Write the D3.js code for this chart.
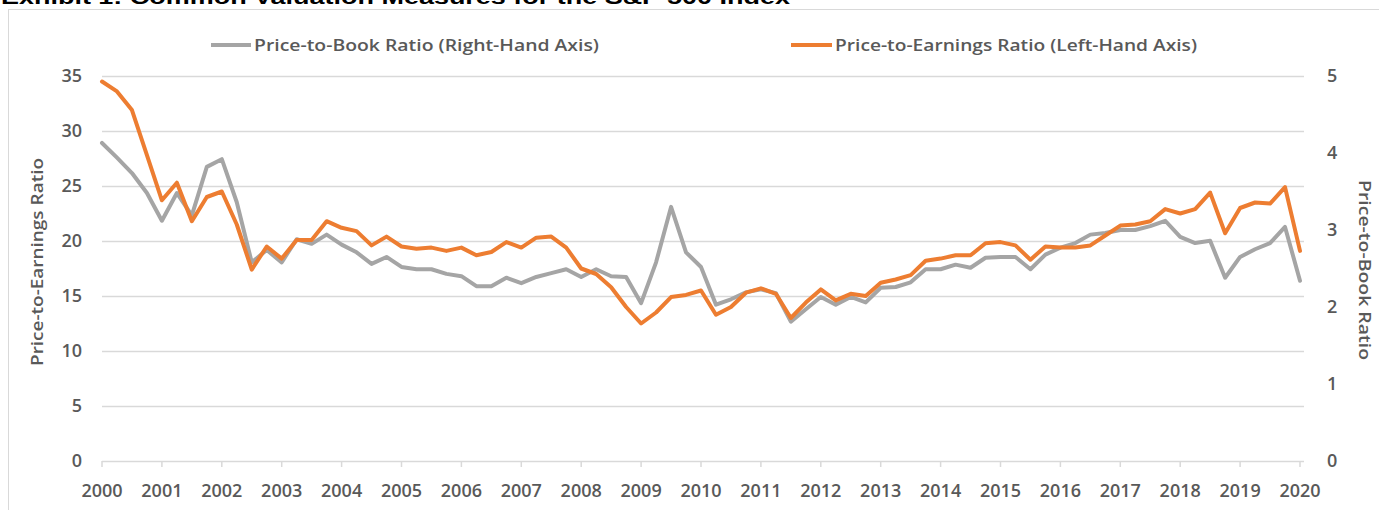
<!DOCTYPE html>
<html>
<head>
<meta charset="utf-8">
<script src="https://cdn.jsdelivr.net/npm/d3@7"></script>
<style>
  html, body { margin: 0; padding: 0; background: #fff; }
  svg { display: block; }
  text { font-family: "Open Sans", "DejaVu Sans", sans-serif; fill: #595959; }
</style>
</head>
<body>
<svg id="chart" width="1379" height="510"></svg>
<script>
// Quarterly observations, 2000 Q1 .. 2020 Q1
const startYear = 2000;
const peRatio = [
  34.5, 33.6, 31.9, 27.8, 23.7, 25.3, 21.8, 24.0, 24.5, 21.5,
  17.4, 19.5, 18.4, 20.1, 20.1, 21.8, 21.2, 20.9, 19.6, 20.4,
  19.5, 19.3, 19.4, 19.1, 19.4, 18.7, 19.0, 19.9, 19.4, 20.3,
  20.4, 19.4, 17.5, 17.0, 15.8, 14.0, 12.5, 13.5, 14.9, 15.1,
  15.5, 13.3, 14.0, 15.3, 15.7, 15.2, 13.0, 14.4, 15.6, 14.6,
  15.2, 15.0, 16.2, 16.5, 16.9, 18.2, 18.4, 18.7, 18.7, 19.8,
  19.9, 19.6, 18.3, 19.5, 19.4, 19.4, 19.6, 20.5, 21.4, 21.5,
  21.8, 22.9, 22.5, 22.9, 24.4, 20.7, 23.0, 23.5, 23.4, 24.9,
  19.1
];
const pbRatio = [
  4.13, 3.94, 3.74, 3.48, 3.12, 3.48, 3.19, 3.82, 3.92, 3.36,
  2.58, 2.74, 2.58, 2.88, 2.82, 2.94, 2.81, 2.71, 2.56, 2.65,
  2.52, 2.49, 2.49, 2.43, 2.40, 2.27, 2.27, 2.38, 2.31, 2.39,
  2.44, 2.49, 2.39, 2.49, 2.40, 2.39, 2.05, 2.58, 3.30, 2.71,
  2.52, 2.03, 2.10, 2.19, 2.23, 2.18, 1.81, 1.97, 2.13, 2.03,
  2.13, 2.06, 2.25, 2.26, 2.32, 2.49, 2.49, 2.55, 2.51, 2.64,
  2.65, 2.65, 2.49, 2.68, 2.77, 2.83, 2.94, 2.96, 3.00, 3.00,
  3.05, 3.12, 2.91, 2.83, 2.86, 2.38, 2.65, 2.75, 2.83, 3.04,
  2.34
];
const yearTicks = d3.range(2000, 2021);
const leftTicks = [0, 5, 10, 15, 20, 25, 30, 35];
const rightTicks = [0, 1, 2, 3, 4, 5];
const seriesNames = ["Price-to-Book Ratio (Right-Hand Axis)", "Price-to-Earnings Ratio (Left-Hand Axis)"];
const titleText = "Exhibit 1: Common Valuation Measures for the S&P 500 Index";
const leftTitle = "Price-to-Earnings Ratio";
const rightTitle = "Price-to-Book Ratio";

const dates = peRatio.map((d, i) => startYear + i * 0.25);

const svg = d3.select("#chart");
const pLeft = 102, pRight = 1300, pTop = 76, pBottom = 461, gridRight = 1304;

const x = d3.scaleLinear().domain([2000, 2020]).range([pLeft, pRight]);
const yL = d3.scaleLinear().domain([0, 35]).range([pBottom, pTop]);
const yR = d3.scaleLinear().domain([0, 5]).range([pBottom, pTop]);

// chart frame (right and bottom edges fall outside the picture)
svg.append("rect").attr("x", 8.5).attr("y", 9.5).attr("width", 1400).attr("height", 520)
  .attr("fill", "none").attr("stroke", "#d9d9d9").attr("stroke-width", 1);

// title (clipped at top, as in the source picture)
svg.append("text").attr("x", 1).attr("y", 4)
  .style("font-family", "'Liberation Sans', Arial, sans-serif")
  .style("font-weight", "bold").style("font-size", "21px").style("fill", "#000")
  .attr("textLength", 789).attr("lengthAdjust", "spacingAndGlyphs")
  .text(titleText);

// gridlines
svg.append("g").selectAll("line").data(leftTicks).join("line")
  .attr("x1", pLeft).attr("x2", gridRight)
  .attr("y1", d => Math.round(yL(d)) + 0.5).attr("y2", d => Math.round(yL(d)) + 0.5)
  .attr("stroke", "#d9d9d9").attr("stroke-width", 1.5);

// x tick marks
svg.append("g").selectAll("line").data(yearTicks).join("line")
  .attr("x1", d => x(d)).attr("x2", d => x(d))
  .attr("y1", pBottom).attr("y2", pBottom + 6)
  .attr("stroke", "#d9d9d9").attr("stroke-width", 1.5);

// x labels
svg.append("g").selectAll("text").data(yearTicks).join("text")
  .attr("x", d => x(d)).attr("y", 497)
  .attr("text-anchor", "middle")
  .style("font-size", "18px").style("font-weight", "600")
  .text(d => d);

// left labels
svg.append("g").selectAll("text").data(leftTicks).join("text")
  .attr("x", 82).attr("y", d => yL(d)).attr("dy", "0.35em")
  .attr("text-anchor", "end")
  .style("font-size", "18px").style("font-weight", "600")
  .text(d => d);

// right labels
svg.append("g").selectAll("text").data(rightTicks).join("text")
  .attr("x", 1327).attr("y", d => yR(d)).attr("dy", "0.35em")
  .attr("text-anchor", "start")
  .style("font-size", "18px").style("font-weight", "600")
  .text(d => d);

// axis titles
svg.append("text")
  .attr("transform", "translate(43,262) rotate(-90)")
  .attr("text-anchor", "middle")
  .style("font-size", "17px").style("font-weight", "600")
  .attr("textLength", 208).attr("lengthAdjust", "spacingAndGlyphs")
  .text(leftTitle);
svg.append("text")
  .attr("transform", "translate(1359,270) rotate(90)")
  .attr("text-anchor", "middle")
  .style("font-size", "17px").style("font-weight", "600")
  .attr("textLength", 180).attr("lengthAdjust", "spacingAndGlyphs")
  .text(rightTitle);

// lines
const linePB = d3.line().x((d, i) => x(dates[i])).y(d => yR(d));
const linePE = d3.line().x((d, i) => x(dates[i])).y(d => yL(d));

svg.append("path").datum(pbRatio).attr("d", linePB)
  .attr("fill", "none").attr("stroke", "#A5A5A5").attr("stroke-width", 4)
  .attr("stroke-linejoin", "round").attr("stroke-linecap", "round");
svg.append("path").datum(peRatio).attr("d", linePE)
  .attr("fill", "none").attr("stroke", "#ED7D31").attr("stroke-width", 4)
  .attr("stroke-linejoin", "round").attr("stroke-linecap", "round");

// legend
const legend = [
  { name: seriesNames[0], color: "#A5A5A5", x1: 211, x2: 251, tx: 254, tw: 345 },
  { name: seriesNames[1], color: "#ED7D31", x1: 791, x2: 832, tx: 835, tw: 362 }
];
const lg = svg.append("g").selectAll("g").data(legend).join("g");
lg.append("line").attr("x1", d => d.x1).attr("x2", d => d.x2).attr("y1", 45).attr("y2", 45)
  .attr("stroke", d => d.color).attr("stroke-width", 4);
lg.append("text").attr("x", d => d.tx).attr("y", 45).attr("dy", "0.35em")
  .style("font-size", "17px").style("font-weight", "600")
  .attr("textLength", d => d.tw).attr("lengthAdjust", "spacingAndGlyphs")
  .text(d => d.name);
</script>
</body>
</html>
